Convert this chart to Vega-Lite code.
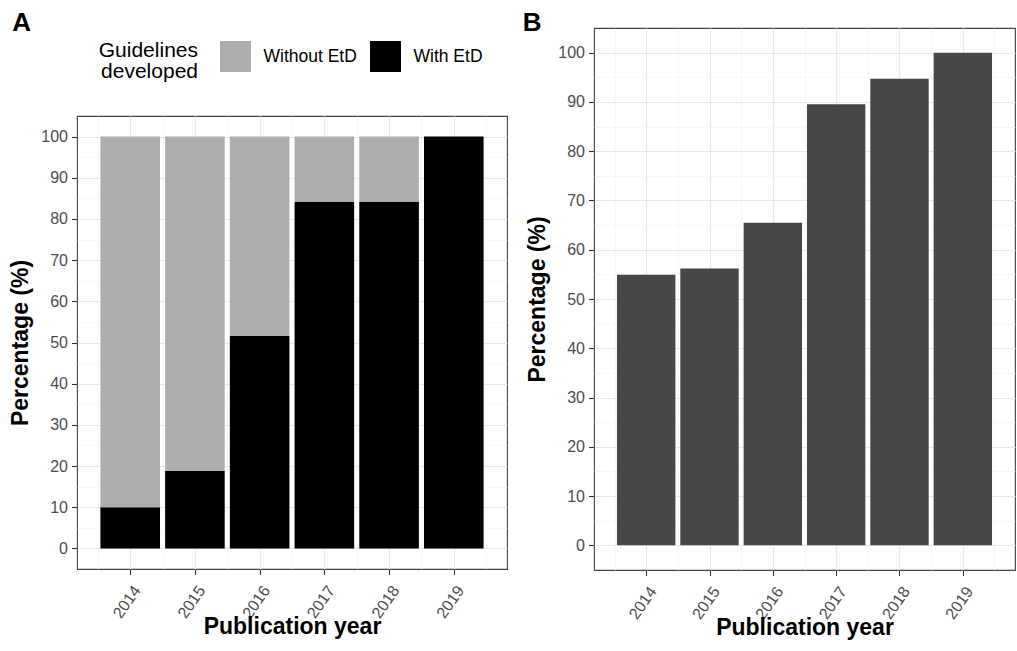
{
  "$schema": "https://vega.github.io/schema/vega-lite/v6.json",
  "background": "white",
  "padding": {"left": 9, "top": 9, "right": 1, "bottom": 0},
  "spacing": 14,
  "resolve": {"scale": {"color": "independent"}, "legend": {"color": "independent"}},
  "datasets": {
    "etd": [
      {"year": 2014, "group": "With EtD", "pct": 10.0},
      {"year": 2014, "group": "Without EtD", "pct": 90.0},
      {"year": 2015, "group": "With EtD", "pct": 18.8},
      {"year": 2015, "group": "Without EtD", "pct": 81.2},
      {"year": 2016, "group": "With EtD", "pct": 51.6},
      {"year": 2016, "group": "Without EtD", "pct": 48.4},
      {"year": 2017, "group": "With EtD", "pct": 84.1},
      {"year": 2017, "group": "Without EtD", "pct": 15.9},
      {"year": 2018, "group": "With EtD", "pct": 84.1},
      {"year": 2018, "group": "Without EtD", "pct": 15.9},
      {"year": 2019, "group": "With EtD", "pct": 100.0},
      {"year": 2019, "group": "Without EtD", "pct": 0.0}
    ],
    "b": [
      {"year": 2014, "pct": 54.9},
      {"year": 2015, "pct": 56.2},
      {"year": 2016, "pct": 65.5},
      {"year": 2017, "pct": 89.5},
      {"year": 2018, "pct": 94.7},
      {"year": 2019, "pct": 100.0}
    ]
  },
  "config": {
    "view": {"stroke": "#444444", "strokeWidth": 1.1},
    "title": {"font": "Liberation Sans", "fontSize": 26, "fontWeight": "bold", "anchor": "start", "frame": "bounds", "offset": -8, "color": "#000000"},
    "axis": {
      "domain": false,
      "grid": true,
      "tickColor": "#333333",
      "tickSize": 5.5,
      "tickWidth": 1.1,
      "labelFont": "Liberation Sans",
      "labelFontSize": 16,
      "labelColor": "#4d4d4d",
      "labelPadding": 4,
      "labelOverlap": false,
      "labelFlush": false,
      "titleFont": "Liberation Sans",
      "titleFontSize": 23,
      "titleFontWeight": "bold",
      "titleColor": "#000000"
    }
  },
  "hconcat": [
    {
      "title": {"text": "A", "dx": 3},
      "spacing": 0,
      "resolve": {"scale": {"color": "independent"}, "legend": {"color": "independent"}},
      "vconcat": [
        {
          "width": 430,
          "height": 12,
          "data": {"values": []},
          "mark": {"type": "point", "opacity": 0},
          "view": {"stroke": null}
        },
        {
          "width": 430,
          "height": 453,
          "data": {"name": "etd"},
          "mark": {"type": "bar", "width": 59.6},
          "encoding": {
            "x": {
              "field": "year", "type": "quantitative",
              "scale": {"domain": [2013.255, 2019.745], "nice": false, "zero": false},
              "axis": {
                "values": [2013.5, 2014, 2014.5, 2015, 2015.5, 2016, 2016.5, 2017, 2017.5, 2018, 2018.5, 2019, 2019.5],
                "labelExpr": "abs(datum.value - round(datum.value)) < 0.1 ? format(datum.value, 'd') : ''",
                "tickOpacity": {"condition": {"test": "abs(datum.value - round(datum.value)) > 0.1", "value": 0}, "value": 1},
                "gridColor": {"condition": {"test": "abs(datum.value - round(datum.value)) > 0.1", "value": "#f3f3f3"}, "value": "#e8e8e8"},
                "gridWidth": {"condition": {"test": "abs(datum.value - round(datum.value)) > 0.1", "value": 0.6}, "value": 1.2},
                "labelAngle": -55, "labelAlign": "right", "labelBaseline": "top", "labelFontSize": 16, "labelPadding": 8,
                "title": "Publication year", "titlePadding": -5
              }
            },
            "y": {
              "field": "pct", "type": "quantitative", "stack": "zero",
              "scale": {"domain": [-5, 105], "nice": false, "zero": false},
              "axis": {
                "values": [0, 5, 10, 15, 20, 25, 30, 35, 40, 45, 50, 55, 60, 65, 70, 75, 80, 85, 90, 95, 100],
                "labelExpr": "datum.value % 10 === 0 ? datum.label : ''",
                "tickOpacity": {"condition": {"test": "datum.value % 10 !== 0", "value": 0}, "value": 1},
                "gridColor": {"condition": {"test": "datum.value % 10 !== 0", "value": "#f3f3f3"}, "value": "#e8e8e8"},
                "gridWidth": {"condition": {"test": "datum.value % 10 !== 0", "value": 0.6}, "value": 1.2},
                "title": "Percentage (%)", "titlePadding": 8
              }
            },
            "color": {
              "field": "group", "type": "nominal",
              "scale": {"domain": ["Without EtD", "With EtD"], "range": ["#adadad", "#000000"]},
              "legend": {
                "orient": "none", "legendX": 22, "legendY": -75, "padding": 0,
                "direction": "horizontal",
                "title": ["Guidelines", "developed"],
                "titleOrient": "left", "titleAlign": "right",
                "titleAnchor": "end", "titleBaseline": "middle",
                "titleFont": "Liberation Sans", "titleFontSize": 21, "titleFontWeight": "normal",
                "titleColor": "#000000", "titleLineHeight": 21, "titlePadding": -78,
                "labelFont": "Liberation Sans", "labelFontSize": 17.5, "labelColor": "#000000",
                "labelOffset": 12.5, "columnPadding": 13,
                "symbolType": "square", "symbolSize": 961, "symbolStrokeWidth": 0
              }
            },
            "order": {"field": "group", "sort": "ascending"}
          }
        }
      ]
    },
    {
      "title": {"text": "B", "dx": -4},
      "width": 421,
      "height": 542,
      "data": {"name": "b"},
      "mark": {"type": "bar", "width": 58.4, "color": "#474747"},
      "encoding": {
        "x": {
          "field": "year", "type": "quantitative",
          "scale": {"domain": [2013.255, 2019.745], "nice": false, "zero": false},
          "axis": {
            "values": [2013.5, 2014, 2014.5, 2015, 2015.5, 2016, 2016.5, 2017, 2017.5, 2018, 2018.5, 2019, 2019.5],
            "labelExpr": "abs(datum.value - round(datum.value)) < 0.1 ? format(datum.value, 'd') : ''",
            "tickOpacity": {"condition": {"test": "abs(datum.value - round(datum.value)) > 0.1", "value": 0}, "value": 1},
            "gridColor": {"condition": {"test": "abs(datum.value - round(datum.value)) > 0.1", "value": "#f3f3f3"}, "value": "#e8e8e8"},
            "gridWidth": {"condition": {"test": "abs(datum.value - round(datum.value)) > 0.1", "value": 0.6}, "value": 1.2},
            "labelAngle": -55, "labelAlign": "right", "labelBaseline": "top", "labelFontSize": 16, "labelPadding": 8,
            "title": "Publication year", "titlePadding": -5
          }
        },
        "y": {
          "field": "pct", "type": "quantitative",
          "scale": {"domain": [-5, 105], "nice": false, "zero": false},
          "axis": {
            "values": [0, 5, 10, 15, 20, 25, 30, 35, 40, 45, 50, 55, 60, 65, 70, 75, 80, 85, 90, 95, 100],
            "labelExpr": "datum.value % 10 === 0 ? datum.label : ''",
            "tickOpacity": {"condition": {"test": "datum.value % 10 !== 0", "value": 0}, "value": 1},
            "gridColor": {"condition": {"test": "datum.value % 10 !== 0", "value": "#f3f3f3"}, "value": "#e8e8e8"},
            "gridWidth": {"condition": {"test": "datum.value % 10 !== 0", "value": 0.6}, "value": 1.2},
            "title": "Percentage (%)", "titlePadding": 8
          }
        }
      }
    }
  ]
}
